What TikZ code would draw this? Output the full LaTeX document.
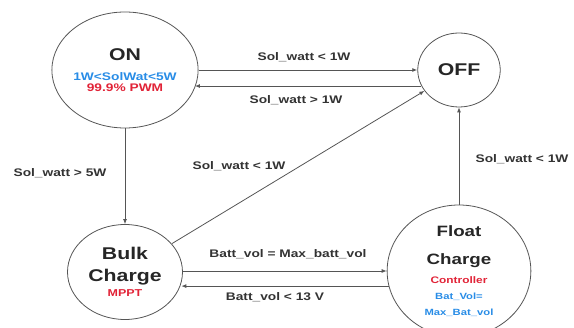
\documentclass[tikz,border=0pt]{standalone}
\usepackage{fontspec}
\setmainfont{Liberation Sans}
\usetikzlibrary{shapes.geometric,arrows.meta}

\definecolor{stblue}{RGB}{40,140,230}
\definecolor{stred}{RGB}{225,35,55}
\definecolor{linegray}{RGB}{85,85,85}
\newcommand{\fs}[2]{\fontsize{#1}{#2}\selectfont}

\tikzset{
  state/.style={draw=linegray, ellipse, line width=0.8pt, inner sep=0pt,
    xscale=1.25, align=center, font=\bfseries, text=black!85},
  cond/.style={font=\bfseries\fs{11}{13}, xscale=1.25, text=black!80},
  arr/.style={draw=linegray, line width=0.8pt, -{Latex[length=5pt,width=4pt]}},
}

\begin{document}
\begin{tikzpicture}[x=1pt,y=-1pt]
  \useasboundingbox (0,0) rectangle (574,328);

  % states
  \node[state, minimum width=104pt, minimum height=116pt] (on) at (125,70)
    {{\fs{17}{20}ON}\\[8pt]{\fs{11}{11}\color{stblue}1W<SolWat<5W}\\[-1pt]{\fs{11}{11}\color{stred}99.9\% PWM}};
  \node[state, minimum width=66pt, minimum height=74pt] (off) at (459,70)
    {\fs{17}{20}OFF};
  \node[state, minimum width=92pt, minimum height=95pt] (bulk) at (125,272)
    {{\fs{17}{20}Bulk}\\[9pt]{\fs{17}{20}Charge}\\[3pt]{\fs{10}{11}\color{stred}MPPT}};
  \node[state, minimum width=115pt, minimum height=132pt] (float) at (459,271)
    {{\fs{15}{18}Float}\\[16pt]{\fs{15}{18}Charge}\\[7pt]{\fs{9.5}{11}\color{stred}Controller}\\[4pt]
     {\fs{9}{11}\color{stblue}Bat\_Vol=}\\[4pt]{\fs{9}{11}\color{stblue}Max\_Bat\_vol}};

  % transitions
  \draw[arr] (on.east) -- (off.west);
  \draw[arr] (off.208) -- (off.208 -| on.-18);
  \draw[arr] (on.south) -- (bulk.north);
  \draw[arr] (bulk) -- (off);
  \draw[arr] (float.north) -- (off.south);
  \draw[arr] (float.west -| bulk.east) -- (float.west);
  \draw[arr] (float.195) -- (float.195 -| bulk.-14);

  % conditions
  \node[cond] (c1) at (304,57) {Sol\_watt < 1W};
  \node[cond] (c2) at (296,100) {Sol\_watt > 1W};
  \node[cond] (c3) at (60,173) {Sol\_watt > 5W};
  \node[cond] (c4) at (239,166) {Sol\_watt < 1W};
  \node[cond] (c5) at (522,159) {Sol\_watt < 1W};
  \node[cond] (c6) at (288,254) {Batt\_vol = Max\_batt\_vol};
  \node[cond] (c7) at (275,297) {Batt\_vol < 13 V};
\end{tikzpicture}
\end{document}
